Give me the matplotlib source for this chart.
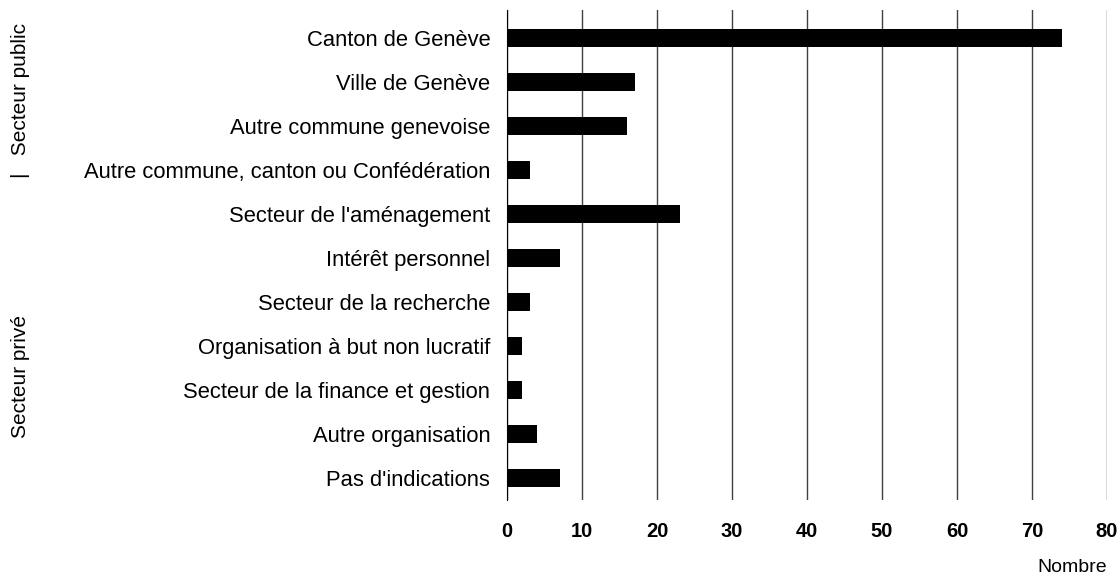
import matplotlib.pyplot as plt
import numpy as np

plt.rcParams['font.family'] = ['Liberation Sans', 'DejaVu Sans']

categories = ["Canton de Genève", "Ville de Genève", "Autre commune genevoise",
              "Autre commune, canton ou Confédération", "Secteur de l'aménagement",
              "Intérêt personnel", "Secteur de la recherche",
              "Organisation à but non lucratif", "Secteur de la finance et gestion",
              "Autre organisation", "Pas d'indications"]
values = [74, 17, 16, 3, 23, 7, 3, 2, 2, 4, 7]
xticks = [0, 10, 20, 30, 40, 50, 60, 70, 80]

fig = plt.figure(figsize=(11.17, 5.80), dpi=100)
ax = fig.add_axes([507/1117, 80/580, 600/1117, 490/580])

ypos = np.arange(len(categories))
ax.barh(ypos, values, height=0.4, color='black', zorder=3)
ax.set_ylim(len(categories) - 0.5, -0.636)
ax.set_xlim(0, 80)
ax.set_xticks(xticks)
ax.set_xticklabels([str(t) for t in xticks], fontsize=14.5, fontweight='bold')
ax.set_yticks(ypos)
ax.set_yticklabels(categories, fontsize=15.8)
ax.tick_params(axis='y', length=0, pad=12)
ax.tick_params(axis='x', length=0, pad=16)
ax.grid(axis='x', color='#404040', linewidth=1, zorder=0)
for s in ['top', 'right', 'bottom']:
    ax.spines[s].set_visible(False)
ax.spines['left'].set_color('black')
ax.spines['left'].set_zorder(4)

fig.text(1107/1117, 1 - 567/580, "Nombre", ha='right', va='center', fontsize=14)
fig.text(21/1117, 1 - 101/580, "|   Secteur public", rotation=90, ha='center', va='center', fontsize=15)
fig.text(21/1117, 1 - 376/580, "Secteur privé", rotation=90, ha='center', va='center', fontsize=15)

fig.savefig('out.png', dpi=100)
